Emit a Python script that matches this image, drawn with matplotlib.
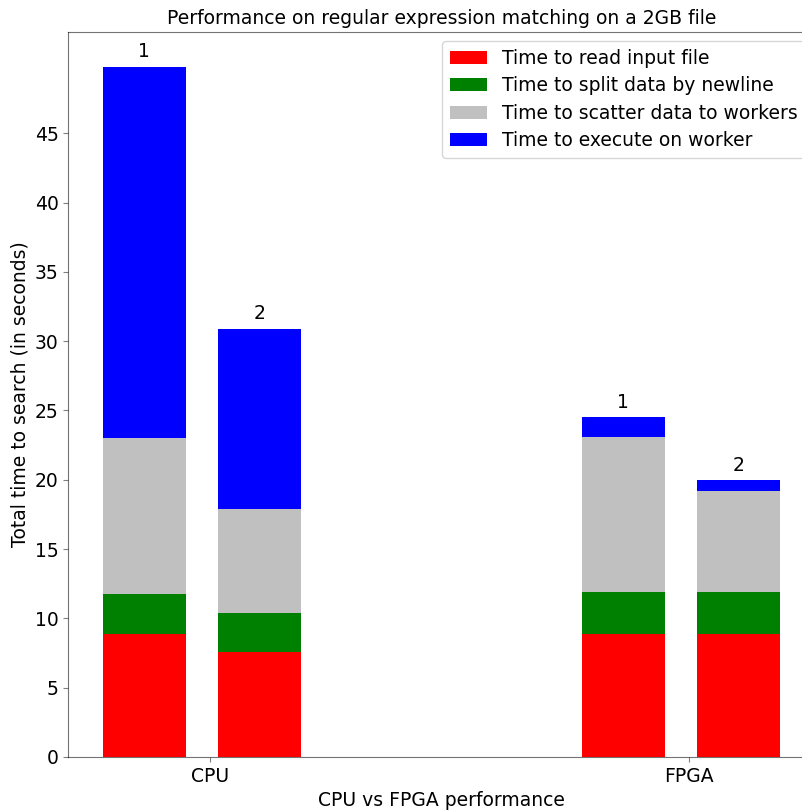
import matplotlib
matplotlib.use("Agg")
import matplotlib.pyplot as plt
import numpy as np

# tiempos por etapa (segundos), una entrada por corrida
grupos = ["CPU", "FPGA"]
corridas = ["1", "2"]
leer_cpu = [8.85, 7.57]
leer_fpga = [8.85, 8.90]
dividir_cpu = [2.88, 2.79]
dividir_fpga = [3.02, 2.97]
repartir_cpu = [11.25, 7.50]
repartir_fpga = [11.25, 7.29]
ejecutar_cpu = [26.82, 13.04]
ejecutar_fpga = [1.38, 0.79]

etapas = ["Time to read input file", "Time to split data by newline",
          "Time to scatter data to workers", "Time to execute on worker"]
colores = ["red", "green", "silver", "blue"]

plt.rcParams["font.size"] = 13.5

fig = plt.figure(figsize=(8.03, 8.10), dpi=100)
ax = fig.add_axes([68.5 / 803, 53 / 810, (815 - 68.5) / 803, 725 / 810])

x = np.arange(len(grupos))
ancho = 0.173
desplaz = [-0.137, 0.103]

datos = {
    "CPU": [leer_cpu, dividir_cpu, repartir_cpu, ejecutar_cpu],
    "FPGA": [leer_fpga, dividir_fpga, repartir_fpga, ejecutar_fpga],
}

for i, g in enumerate(grupos):
    for j, nombre in enumerate(corridas):
        base = 0
        for k, serie in enumerate(datos[g]):
            ax.bar(x[i] + desplaz[j], serie[j], ancho, bottom=base,
                   color=colores[k], label=etapas[k] if (i == 0 and j == 0) else None)
            base += serie[j]
        ax.text(x[i] + desplaz[j], base + 0.4, nombre, ha="center", va="bottom")

ax.set_xlim(-0.2955, 1.263)
ax.set_ylim(0, 52.3)
ax.set_xticks(x)
ax.set_xticklabels(grupos)
ax.set_yticks(np.arange(0, 50, 5))
ax.tick_params(colors=(0, 0, 0, 0.5), labelcolor="black")
for s in ax.spines.values():
    s.set_color((0, 0, 0, 0.55))

ax.set_title("Performance on regular expression matching on a 2GB file", fontsize=13.5)
ax.set_xlabel("CPU vs FPGA performance")
ax.set_ylabel("Total time to search (in seconds)")
ax.legend(loc="upper right", labelspacing=0.45)

fig.savefig("out.png", dpi=100)
